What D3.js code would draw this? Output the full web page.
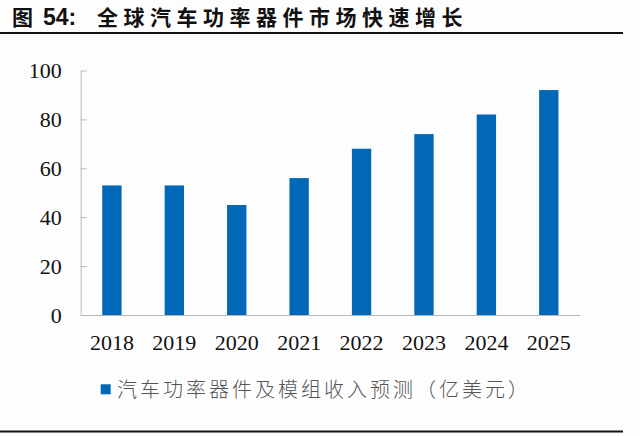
<!DOCTYPE html>
<html lang="zh">
<head>
    <meta charset="UTF-8">
    <title>全球汽车功率器件市场快速增长</title>
    <script src="https://cdn.jsdelivr.net/npm/d3@7"></script>
</head>
<style>
    body { margin: 0; background: #fdfdfe; }
    .chart text.tick-label { font: 22px "Liberation Serif", serif; fill: #111; }
    .chart .axis path, .chart .axis line { stroke: #b8b8b8; }
</style>
<body>
<svg class="chart"></svg>
<script>
    let years = ['2018', '2019', '2020', '2021', '2022', '2023', '2024', '2025'];
    let revenue = [53, 53, 45, 56, 68, 74, 82, 92];
    let yTicks = [0, 20, 40, 60, 80, 100];
    let seriesName = '汽车功率器件及模组收入预测（亿美元）';

    let width = 640,
        height = 436;

    let svg = d3.select('.chart')
        .attr('width', width)
        .attr('height', height);

    // title
    let title = svg.append('text')
        .attr('y', 25)
        .attr('fill', '#111')
        .style('font-weight', 'bold');
    title.append('tspan')
        .attr('x', 12)
        .style('font', 'bold 21px "Noto Sans CJK SC"')
        .text('图');
    title.append('tspan')
        .attr('x', 43)
        .style('font', 'bold 23px "Liberation Sans"')
        .text('54:');
    title.append('tspan')
        .attr('x', 97)
        .style('font', 'bold 21px "Noto Sans CJK SC"')
        .style('letter-spacing', '5.5px')
        .text('全球汽车功率器件市场快速增长');

    svg.append('rect')
        .attr('x', 0).attr('y', 32)
        .attr('width', 623).attr('height', 2)
        .attr('fill', '#111');

    let x = d3.scaleBand()
        .domain(years)
        .range([80.7, 580])
        .paddingInner(0.69)
        .paddingOuter(0.345);

    let y = d3.scaleLinear()
        .domain([0, 100])
        .range([315, 70.5]);

    let yAxis = svg.append('g')
        .attr('class', 'axis')
        .attr('transform', 'translate(80.7,0)')
        .call(d3.axisLeft(y).tickValues(yTicks).tickSizeInner(-6).tickSizeOuter(0).tickPadding(19));
    yAxis.selectAll('text').attr('class', 'tick-label');

    svg.selectAll('.bar')
        .data(revenue)
        .enter().append('rect')
        .attr('class', 'bar')
        .attr('x', (d, i) => x(years[i]))
        .attr('y', d => y(d))
        .attr('width', x.bandwidth())
        .attr('height', d => y(0) - y(d))
        .attr('fill', '#0068b7');

    let xAxis = svg.append('g')
        .attr('class', 'axis')
        .attr('transform', 'translate(0,315)')
        .call(d3.axisBottom(x).tickSize(0).tickPadding(19.5));
    xAxis.select('.domain').attr('d', 'M80.7,0.5H580');
    xAxis.selectAll('text').attr('class', 'tick-label');

    yAxis.select('.domain').raise();
    svg.node().appendChild(xAxis.node());

    // legend
    svg.append('rect')
        .attr('x', 100.7).attr('y', 384.3)
        .attr('width', 10).attr('height', 10)
        .attr('fill', '#0068b7');
    svg.append('text')
        .attr('x', 117)
        .attr('y', 397)
        .attr('fill', '#555')
        .style('font', '20px "Noto Sans CJK SC"')
        .style('font-weight', '300')
        .style('letter-spacing', '3px')
        .text(seriesName);

    svg.append('rect')
        .attr('x', 0).attr('y', 430.5)
        .attr('width', 623).attr('height', 2)
        .attr('fill', '#111');
</script>
</body>
</html>
